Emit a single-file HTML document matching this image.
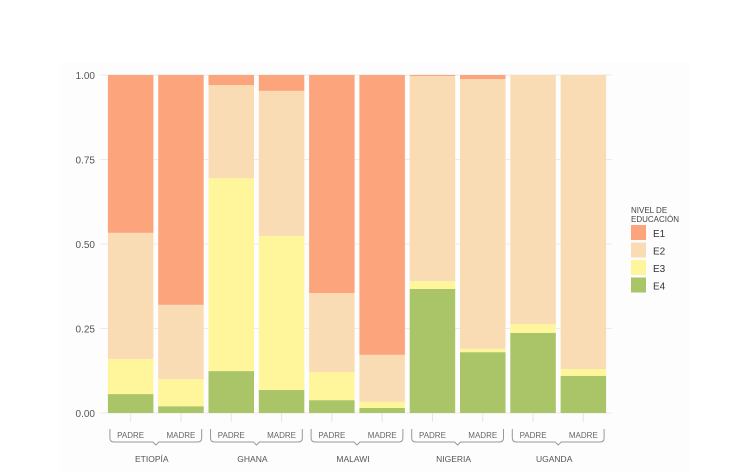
<!DOCTYPE html>
<html><head><meta charset="utf-8"><style>
html,body{margin:0;padding:0;background:#fff;}
svg{display:block;font-family:"Liberation Sans",sans-serif;}
</style></head><body>
<svg id="chart" width="754" height="471">
<rect x="60" y="62" width="630" height="409" fill="#fdfdfd"/>
<g id="grid"></g><g id="bars"></g><g id="axis"></g><g id="xlab"></g>
<g>
<text x="631" y="213" font-size="8" fill="#444">NIVEL DE</text>
<text x="631" y="222" font-size="8" fill="#444">EDUCACIÓN</text>
<g id="legend"></g>
</g>
</svg>
<script>
const countries=["ETIOPÍA","GHANA","MALAWI","NIGERIA","UGANDA"];
const parents=["PADRE","MADRE"];
const e4=[0.056,0.02,0.124,0.068,0.038,0.015,0.367,0.18,0.237,0.11];
const e3=[0.104,0.08,0.571,0.456,0.083,0.018,0.023,0.01,0.026,0.02];
const e2=[0.373,0.22,0.275,0.429,0.234,0.139,0.607,0.798,0.737,0.87];
const e1=[0.467,0.68,0.03,0.047,0.645,0.828,0.003,0.012,0,0];
const yTicks=[0,0.25,0.5,0.75,1];
const yTickLabels=["0.00","0.25","0.50","0.75","1.00"];
const levels=["E1","E2","E3","E4"];
const colors={E1:"#fca57d",E2:"#fadcb4",E3:"#fff59a",E4:"#aac468"};
const ns="http://www.w3.org/2000/svg";
const y0=413,y1=75,x0=105.5,band=50.3,bw=45.5;
const Y=v=>y0-(y0-y1)*v;
const X=i=>x0+band*i+(band-bw)/2;
function mk(tag,attrs,parent){const e=document.createElementNS(ns,tag);for(const k in attrs)e.setAttribute(k,attrs[k]);parent.appendChild(e);return e;}
const grid=document.getElementById('grid'),bars=document.getElementById('bars'),axis=document.getElementById('axis'),xl=document.getElementById('xlab'),lg=document.getElementById('legend');
yTicks.forEach((t,i)=>{
 const l=mk('line',{x1:100,x2:612,y1:Y(t),y2:Y(t),stroke:"#ececec","stroke-width":1},grid);
 
 
 const tx=mk('text',{x:95,y:Y(t)+4,"text-anchor":"end","font-size":10,fill:"#555"},axis);
 tx.textContent=yTickLabels[i];
 
 
});
for(let i=0;i<e4.length;i++){
 const vals=[["E4",e4[i]],["E3",e3[i]],["E2",e2[i]],["E1",e1[i]]];
 let acc=0;
 vals.forEach(([k,v])=>{
  if(v<=0)return;
  const r=mk('rect',{x:X(i),width:bw,y:Y(acc+v),height:Y(acc)-Y(acc+v),fill:colors[k]},bars);
  
  
  acc+=v;
 });
 const c=X(i)+bw/2;
 mk('line',{x1:c,x2:c,y1:413,y2:422,stroke:"#e6e6e6"},grid);
 const t=mk('text',{x:c,y:438,"text-anchor":"middle","font-size":8,fill:"#666"},xl);
 t.textContent=parents[i%2];
 
 
}
countries.forEach((cn,g)=>{
 const a=X(2*g)+2,b=X(2*g+1)+bw-2,m=(a+b)/2;
 const p=mk('path',{d:`M${a},429 v9 q0,4 4,4 H${m-3} l3,3 l3,-3 H${b-4} q4,0 4,-4 v-9`,fill:"none",stroke:"#999","stroke-width":1},xl);
 
 
 const t=mk('text',{x:m-4,y:462,"text-anchor":"middle","font-size":8.5,fill:"#555"},xl);
 t.textContent=cn;
 
 
});
levels.forEach((k,i)=>{
 const r=mk('rect',{x:631,y:225+i*17.5,width:15,height:15,fill:colors[k]},lg);
 
 
 const t=mk('text',{x:653,y:237+i*17.5,"font-size":10,fill:"#333"},lg);
 t.textContent=k;
 
 
});
</script>
</body></html>
